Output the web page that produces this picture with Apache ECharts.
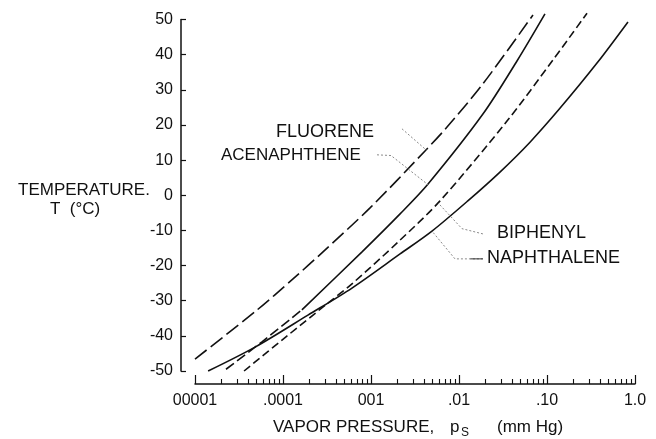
<!DOCTYPE html>
<html>
<head>
<meta charset="utf-8">
<script src="https://cdn.jsdelivr.net/npm/echarts@6/dist/echarts.min.js"></script>
<style>
html,body{margin:0;padding:0;background:#fff;}
#chart{width:656px;height:439px;}
</style>
</head>
<body>
<div id="chart"></div>
<script>
// vapor pressure (mm Hg) vs temperature (deg C)
var fluorT = [-46.6, -32.9, -23.8, -16.1, -3.6, 12.6, 19.4, 31.7, 51.3];
var fluorP = [1.0e-5, 4.93e-5, 1.30e-4, 2.85e-4, 9.75e-4, 4.11e-3, 7.31e-3, 1.87e-2, 6.93e-2];

var acenT = [-49.5, -41.7, -32.6, -16.1, -5.3, 3.2, 23.1, 38.2, 51.6];
var acenP = [2.25e-5, 5.77e-5, 1.64e-4, 7.91e-4, 2.14e-3, 4.45e-3, 1.87e-2, 4.56e-2, 9.48e-2];
var acenDashedUpTo = 2; // lower part of acenaphthene drawn dashed

var biphT = [-50, -40.3, -30.9, -25.2, -13.3, -1.6, 21.1, 38.5, 51.8];
var biphP = [3.61e-5, 1.08e-4, 3.16e-4, 6.08e-4, 2.03e-3, 6.08e-3, 3.51e-2, 0.117, 0.285];

var naphT = [-50, -43.2, -34.1, -26.4, -16.7, -10.2, -1.6, 6.6, 15.1, 24.8, 37.6, 49.3];
var naphP = [1.41e-5, 4.81e-5, 1.92e-4, 6.08e-4, 2.14e-3, 4.93e-3, 1.26e-2, 2.92e-2, 6.41e-2, 0.141, 0.370, 0.832];

// leader lines from the names to the curves, [p, T]
var fluorLead = [[2.25e-3, 18.9], [4.32e-3, 12.7]];
var acenLead = [[1.17e-3, 11.5], [1.69e-3, 11.3], [4.45e-3, 3.0]];
var biphLead = [[1.87e-2, -11.0], [1.08e-2, -9.5], [5.8e-3, -2.2]];
var naphLead = [[1.87e-2, -18.1], [9.0e-3, -18.1], [4.93e-3, -10.2]];
var naphLeadTail = [[1.87e-2, -18.1], [1.35e-2, -18.1]];

var xTickLabels = ['00001', '.0001', '001', '.01', '.10', '1.0'];

var FONT = 'Liberation Sans';
var INK = '#111';

function pairs(p, t){
	return p.map(function(v, i){ return [v, t[i]]; });
}
function curve(name, data, dash){
	return {
		name: name, type: 'line', data: data, xAxisIndex: 0,
		symbol: 'none', smooth: 0.3, clip: false, animation: false,
		lineStyle: {color: INK, width: 1.6, type: dash || 'solid'}
	};
}
function leader(data, color, dash){
	return {
		type: 'line', data: data, xAxisIndex: 0, symbol: 'none', animation: false,
		lineStyle: {color: color || '#8a8a8a', width: 1, type: dash || [2, 2]}
	};
}

// minor ticks of the log axis at 2..9 of every decade
var minorTicks = [];
for (var d = -5; d < 0; d++) {
	for (var k = 2; k <= 9; k++) minorTicks.push(d + Math.log10(k));
}

var acenAll = pairs(acenP, acenT);

var chart = echarts.init(document.getElementById('chart'), null, {renderer: 'canvas'});
chart.setOption({
	animation: false,
	backgroundColor: '#fff',
	grid: {left: 195, right: 21, top: 19.5, bottom: 68},
	xAxis: [{
		type: 'log', logBase: 10, min: 1e-5, max: 1, position: 'bottom', offset: 13,
		axisLine: {show: true, onZero: false, lineStyle: {color: INK, width: 1.5}},
		axisTick: {show: true, inside: true, length: 9, lineStyle: {color: INK, width: 1.2}},
		axisLabel: {
			color: INK, fontSize: 16, fontFamily: FONT, margin: 9,
			formatter: function(v){ return xTickLabels[Math.round(Math.log10(v)) + 5]; }
		},
		splitLine: {show: false}, minorTick: {show: false}
	}, {
		type: 'value', min: -5, max: 0, position: 'bottom', offset: 13,
		axisLine: {show: false, onZero: false},
		axisTick: {show: true, inside: true, length: 5, customValues: minorTicks, lineStyle: {color: INK, width: 1.1}},
		axisLabel: {show: false},
		splitLine: {show: false}
	}],
	yAxis: {
		type: 'value', min: -50, max: 50, interval: 10, offset: 14, position: 'left',
		axisLine: {show: true, onZero: false, lineStyle: {color: INK, width: 1.5}},
		axisTick: {show: true, inside: true, length: 5, lineStyle: {color: INK, width: 1.2}},
		axisLabel: {color: INK, fontSize: 16, fontFamily: FONT, margin: 8},
		splitLine: {show: false}
	},
	series: [
		curve('FLUORENE', pairs(fluorP, fluorT), [15, 5]),
		curve('ACENAPHTHENE', acenAll.slice(0, acenDashedUpTo + 1), [10, 4]),
		curve('ACENAPHTHENE', acenAll.slice(acenDashedUpTo)),
		curve('BIPHENYL', pairs(biphP, biphT), [8, 4]),
		curve('NAPHTHALENE', pairs(naphP, naphT)),
		leader(fluorLead), leader(acenLead), leader(biphLead), leader(naphLead),
		leader(naphLeadTail, '#333', 'solid')
	],
	graphic: [
		{type: 'text', left: 18, top: 182, style: {text: 'TEMPERATURE.', font: '17px ' + FONT, fill: INK}},
		{type: 'text', left: 50, top: 201, style: {text: 'T  (°C)', font: '17px ' + FONT, fill: INK}},
		{type: 'text', left: 276, top: 123, style: {text: 'FLUORENE', font: '18px ' + FONT, fill: INK}},
		{type: 'text', left: 221, top: 147, style: {text: 'ACENAPHTHENE', font: '17px ' + FONT, fill: INK}},
		{type: 'text', left: 497, top: 224, style: {text: 'BIPHENYL', font: '18px ' + FONT, fill: INK}},
		{type: 'text', left: 487, top: 249, style: {text: 'NAPHTHALENE', font: '18px ' + FONT, fill: INK}},
		{type: 'text', left: 273, top: 419, style: {text: 'VAPOR PRESSURE,', font: '17px ' + FONT, fill: INK}},
		{type: 'text', left: 450, top: 419, style: {text: 'p', font: '17px ' + FONT, fill: INK}},
		{type: 'text', left: 461, top: 427, style: {text: 'S', font: '12px ' + FONT, fill: INK}},
		{type: 'text', left: 497, top: 419, style: {text: '(mm Hg)', font: '17px ' + FONT, fill: INK}}
	]
});
</script>
</body>
</html>
